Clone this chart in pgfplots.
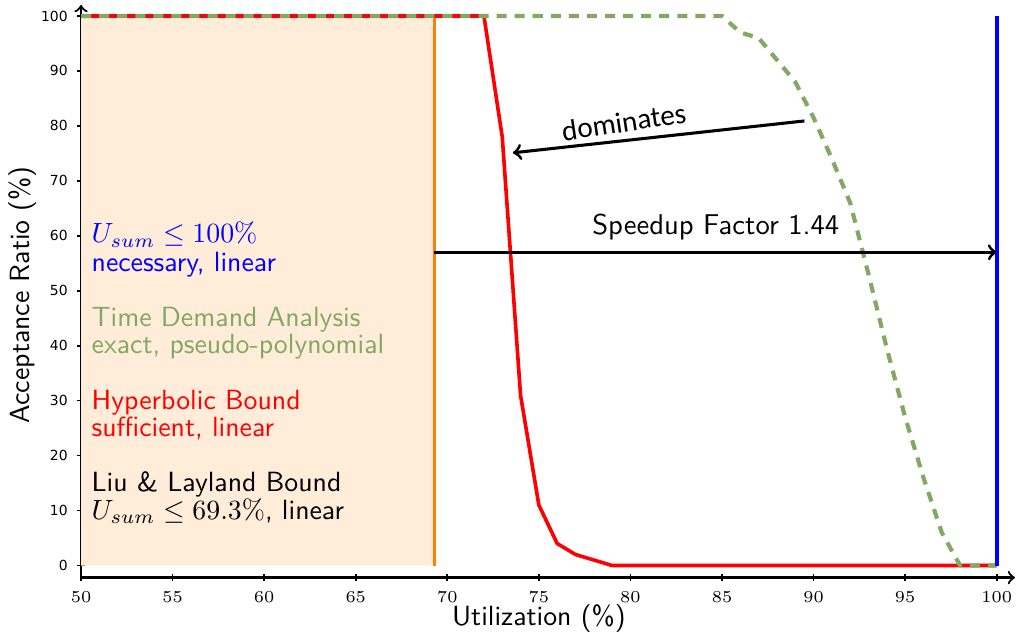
\documentclass[border=0pt]{standalone}
\usepackage{fontspec}
\usepackage{pgfplots}
\pgfplotsset{compat=1.18}
\newfontfamily\carlito{Carlito}
\newfontfamily\dejavu{DejaVu Sans}
\definecolor{tdagreen}{RGB}{130,168,100}
\definecolor{llorange}{RGB}{255,128,0}
\definecolor{llfill}{RGB}{255,236,217}
\begin{document}
\begin{tikzpicture}
\begin{axis}[
  name=ax,
  scale only axis,
  width=336pt, height=206pt,
  xmin=50, xmax=101, ymin=-2.2, ymax=102,
  axis lines=left,
  axis line style={->, line width=0.8pt},
  xtick={50,55,...,100}, ytick={0,10,...,100},
  tick align=center, major tick length=2.6pt,
  tick style={black, line width=0.6pt},
  /pgf/number format/assume math mode=true,
  xticklabel style={font=\fontsize{6}{7}\selectfont},
  yticklabel style={font=\dejavu\fontsize{5}{6}\selectfont},
  xlabel={Utilization (\%)}, ylabel={Acceptance Ratio (\%)},
  xlabel style={font=\sffamily\fontsize{10}{12}\selectfont, at={(axis description cs:0.4902,-0.0718)}, anchor=center},
  ylabel style={font=\sffamily\fontsize{10}{12}\selectfont, at={(axis description cs:-0.0631,0.494)}, anchor=center},
  clip=false,
]
% Liu & Layland region
\addplot[draw=none, fill=llfill] coordinates {(50,0) (69.3,0) (69.3,100) (50,100) (50,0)};
\addplot[llorange, line width=1.3pt] coordinates {(69.3,0) (69.3,100)};
% Hyperbolic bound
\addplot[red, line width=1.3pt] coordinates {
(50,100) (72,100) (73,78) (74,31) (75,11) (76,4) (77,2) (79,0) (100,0)};
% Time demand analysis
\addplot[tdagreen, line width=1.5pt, dash pattern=on 3.6pt off 2.9pt] coordinates {
(50,100) (85,100) (86,97) (87,96) (88,92) (89,88) (90,81.5) (91,74) (92,66) (93,53) (94,39.5) (95,27) (96,16) (97,6) (98,0) (100,0)};
% necessary
\addplot[blue, line width=1.4pt] coordinates {(100,0) (100,100)};

% annotations
\draw[->, line width=1.1pt] (axis cs:69.3,57) -- (axis cs:100,57);
\node[font=\sffamily\fontsize{10.3}{12}\selectfont] at (axis cs:84.66,61.6) {Speedup Factor 1.44};
\draw[->, line width=1.1pt] (axis cs:89.5,80.9) -- (axis cs:73.58,75.1);
\node[font=\carlito\fontsize{10.5}{12}\selectfont, rotate=8.5] at (axis cs:79.64,80.7) {dominates};

\begin{scope}[every node/.style={anchor=base west, inner sep=0pt, font=\sffamily\fontsize{10}{12}\selectfont}]
\node[text=blue] at (axis cs:50.55,58.7) {$U_{sum}\leq 100\%$};
\node[text=blue] at (axis cs:50.55,53.5) {necessary, linear};
\node[text=tdagreen] at (axis cs:50.55,43.5) {Time Demand Analysis};
\node[text=tdagreen] at (axis cs:50.55,38.5) {exact, pseudo-polynomial};
\node[text=red] at (axis cs:50.55,28.4) {Hyperbolic Bound};
\node[text=red] at (axis cs:50.55,23.5) {sufficient, linear};
\node[text=black] at (axis cs:50.55,13.5) {Liu \& Layland Bound};
\node[text=black] at (axis cs:50.55,8.4) {$U_{sum}\leq 69.3\%$, linear};
\end{scope}
\end{axis}
\pgfresetboundingbox
\path[use as bounding box] ([xshift=-29.16pt,yshift=-21.96pt]ax.south west) rectangle ([xshift=2.52pt,yshift=1.8pt]ax.north east);
\end{tikzpicture}
\end{document}
